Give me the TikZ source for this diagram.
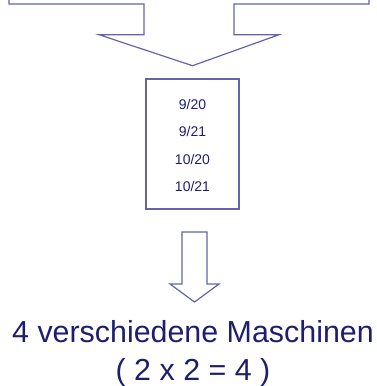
\documentclass[tikz,border=0pt]{standalone}
\usepackage{fontspec}
\setmainfont{Liberation Sans}
\usetikzlibrary{positioning}

\definecolor{shapeline}{RGB}{100,100,170}
\definecolor{labeltext}{RGB}{30,30,110}

\begin{document}
\begin{tikzpicture}[x=1pt,y=-1pt,
  outline/.style={draw=shapeline,line width=1.2pt,line join=miter},
  combobox/.style={outline,minimum width=93pt,minimum height=130pt,inner sep=0pt,
    text=labeltext,align=center,font=\fontsize{14}{27.4}\selectfont},
  result/.style={text=labeltext,align=center,font=\fontsize{30.4}{38}\selectfont}]

\def\cx{192.5}

\path [use as bounding box] (0,0) rectangle (377,386);

% FUNNEL
\draw [outline] (9,0) -- (9,4) -- (144,4) -- (144,34.7) -- (99,34.7)
  -- (\cx,65.7) -- (279,34.7) -- (234,34.7) -- (234,4) -- (369,4) -- (369,0);

% COMBINATIONS
\node [combobox] (combos) at (\cx,144) {};
\node [text=labeltext,align=center,font=\fontsize{14}{27.4}\selectfont]
  (pairs) at ([yshift=-1.5pt]combos.center) {9/20\\9/21\\10/20\\10/21};

% ARROW
\coordinate (tip) at (194.5,302);
\draw [outline] (182,232) -- (207,232) -- (207,284) -- (219,284) -- (tip)
  -- (170,284) -- (182,284) -- cycle;

% RESULT
\node [result] (machines) at (193,354) {4 verschiedene Maschinen\\( 2 x 2 = 4 )};

\end{tikzpicture}
\end{document}
